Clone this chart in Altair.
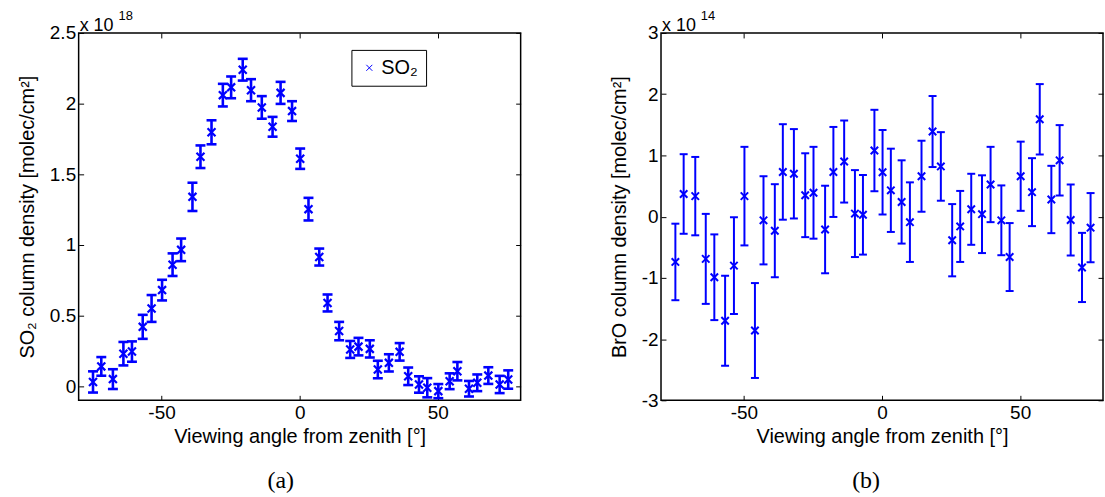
import altair as alt
import pandas as pd

# viewing angles (deg) shared by both panels
angles = [-74.8, -71.8, -67.6, -63.8, -60.7, -56.8, -53.6, -49.8, -46.0, -42.9,
          -38.8, -35.9, -31.9, -27.8, -24.8, -20.6, -17.6, -13.7, -9.8, -6.9,
          -2.75, 0.2, 3.2, 7.1, 10.1, 14.3, 18.3, 21.3, 25.4, 28.3,
          32.3, 36.2, 39.3, 43.2, 46.2, 50.2, 54.3, 57.1, 61.3, 64.3,
          68.3, 72.4, 75.5]

# SO2 column density (x 1e18 molec/cm2) and its error
so2 = [0.03, 0.14, 0.05, 0.23, 0.245, 0.42, 0.55, 0.68, 0.86, 0.965,
       1.34, 1.624, 1.797, 2.06, 2.115, 2.24, 2.095, 1.973, 1.836, 2.076,
       1.947, 1.61, 1.253, 0.914, 0.589, 0.39, 0.26, 0.28, 0.264, 0.118,
       0.165, 0.243, 0.07, 0.012, -0.011, -0.035, 0.035, 0.106, -0.018, 0.024,
       0.075, 0.012, 0.047]
so2_err = [0.075, 0.066, 0.07, 0.083, 0.072, 0.085, 0.095, 0.073, 0.08, 0.08,
           0.1, 0.08, 0.085, 0.08, 0.077, 0.077, 0.078, 0.08, 0.07, 0.078,
           0.07, 0.072, 0.08, 0.06, 0.06, 0.065, 0.06, 0.062, 0.061, 0.062,
           0.061, 0.062, 0.062, 0.058, 0.068, 0.05, 0.056, 0.065, 0.055, 0.059,
           0.059, 0.061, 0.065]

# BrO column density (x 1e14 molec/cm2) and its error
bro = [-0.74, 0.37, 0.335, -0.69, -0.99, -1.70, -0.80, 0.335, -1.86, -0.06,
       -0.23, 0.73, 0.70, 0.35, 0.39, -0.21, 0.73, 0.90, 0.05, 0.03,
       1.08, 0.725, 0.43, 0.24, -0.09, 0.66, 1.39, 0.82, -0.385, -0.16,
       0.12, 0.04, 0.525, -0.06, -0.66, 0.66, 0.40, 1.59, 0.28, 0.92,
       -0.055, -0.83, -0.18]
bro_err = [0.625, 0.65, 0.64, 0.735, 0.70, 0.735, 0.79, 0.805, 0.775, 0.72,
           0.76, 0.78, 0.73, 0.685, 0.75, 0.715, 0.735, 0.67, 0.71, 0.65,
           0.665, 0.69, 0.68, 0.68, 0.65, 0.58, 0.58, 0.56, 0.59, 0.58,
           0.58, 0.635, 0.615, 0.57, 0.555, 0.565, 0.555, 0.575, 0.55, 0.575,
           0.58, 0.565, 0.565]

x_ticks = [-50, 0, 50]
so2_ticks = [0, 0.5, 1, 1.5, 2, 2.5]
bro_ticks = [-3, -2, -1, 0, 1, 2, 3]

BLUE = "#0000ff"
FONT = "Liberation Sans"
SERIF = "Liberation Serif"
XPATH = "M-1,-1L1,1M1,-1L-1,1"
TICK = 5


def panel(vals, errs, ydom, yticks, ytitle, expo, caption, cap_dx, width,
          bar_w, cap_w, mark_size, mark_w, legend):
    df = pd.DataFrame({
        "angle": angles,
        "val": vals,
        "lo": [v - e for v, e in zip(vals, errs)],
        "hi": [v + e for v, e in zip(vals, errs)],
        "series": ["SO₂"] * len(vals),
    })
    xs = alt.Scale(domain=[-80, 80], nice=False, zero=False)
    ys = alt.Scale(domain=ydom, nice=False, zero=False)
    lab = "'' + datum.value"
    bottom = alt.Axis(orient="bottom", values=x_ticks, labelExpr=lab, grid=False,
                      domain=False, offset=-TICK, tickSize=TICK, tickColor="black",
                      labelPadding=3, labelFont=FONT, labelFontSize=19,
                      labelColor="black", title="Viewing angle from zenith [°]",
                      titleFont=FONT, titleFontSize=20, titleFontWeight="normal",
                      titleColor="black", titlePadding=4)
    left = alt.Axis(orient="left", values=yticks, labelExpr=lab, grid=False,
                    domain=False, offset=-TICK, tickSize=TICK, tickColor="black",
                    labelPadding=3, labelFont=FONT, labelFontSize=19,
                    labelColor="black", title=ytitle, titleFont=FONT,
                    titleFontSize=20, titleFontWeight="normal",
                    titleColor="black", titlePadding=12)
    top = alt.Axis(orient="top", values=x_ticks, labels=False, grid=False,
                   domain=False, offset=-TICK, tickSize=TICK, tickColor="black",
                   title=None)
    right = alt.Axis(orient="right", values=yticks, labels=False, grid=False,
                     domain=False, offset=-TICK, tickSize=TICK, tickColor="black",
                     title=None)
    base = alt.Chart(df)
    bars = base.mark_rule(color=BLUE, strokeWidth=bar_w).encode(
        x=alt.X("angle:Q", scale=xs, axis=bottom),
        y=alt.Y("lo:Q", scale=ys, axis=left),
        y2="hi:Q",
    )
    cap_lo = base.mark_tick(color=BLUE, thickness=bar_w, size=cap_w,
                            orient="horizontal", opacity=1).encode(
        x=alt.X("angle:Q", scale=xs, axis=None),
        y=alt.Y("lo:Q", scale=ys, axis=None),
    )
    cap_hi = base.mark_tick(color=BLUE, thickness=bar_w, size=cap_w,
                            orient="horizontal", opacity=1).encode(
        x=alt.X("angle:Q", scale=xs, axis=None),
        y=alt.Y("hi:Q", scale=ys, axis=None),
    )
    enc = dict(
        x=alt.X("angle:Q", scale=xs, axis=top),
        y=alt.Y("val:Q", scale=ys, axis=right),
    )
    if legend:
        enc["color"] = alt.Color(
            "series:N", scale=alt.Scale(domain=["SO₂"], range=[BLUE]),
            legend=alt.Legend(orient="none", legendX=274, legendY=17, title=None,
                              strokeColor="black", fillColor="white",
                              padding=8, labelFont=FONT, labelFontSize=20,
                              labelColor="black", labelOffset=2,
                              symbolType=XPATH, symbolSize=36,
                              symbolStrokeColor="#7070ff", symbolStrokeWidth=1,
                              symbolFillColor="transparent", cornerRadius=0))
    pts = base.mark_point(shape=XPATH, filled=False, size=mark_size,
                          strokeWidth=mark_w, color=BLUE, opacity=1).encode(**enc)
    note = alt.Chart(pd.DataFrame({"a": ["x 10"], "b": [expo]}))
    ex1 = note.mark_text(font=FONT, fontSize=18, align="left",
                         baseline="alphabetic", color="black").encode(
        x=alt.value(1), y=alt.value(-2), text="a:N")
    ex2 = note.mark_text(font=FONT, fontSize=13, align="left",
                         baseline="alphabetic", color="black").encode(
        x=alt.value(40), y=alt.value(-13), text="b:N")
    return alt.layer(bars, cap_lo, cap_hi, pts, ex1, ex2).resolve_axis(
        x="independent", y="independent"
    ).properties(
        width=width, height=369,
        title=alt.TitleParams(caption, orient="bottom", font=SERIF, fontSize=24,
                              fontWeight="normal", color="black", anchor="middle",
                              frame="group", dx=cap_dx, offset=23),
    )


left_panel = panel(so2, so2_err, [-0.1, 2.5], so2_ticks,
                   "SO₂ column density [molec/cm²]", "18", "(a)", -19, 444,
                   2.6, 10, 64, 2.2, True)
right_panel = panel(bro, bro_err, [-3, 3], bro_ticks,
                    "BrO column density [molec/cm²]", "14", "(b)", -16, 444,
                    2.0, 8, 56, 2.0, False)

chart = alt.hconcat(left_panel, right_panel, spacing=86).properties(
    padding={"left": 16, "top": 8, "right": 0, "bottom": 0},
    background="white",
).configure_view(stroke="black", strokeWidth=1.5)

chart.save("out.html", embed_options={"renderer": "svg", "actions": False})
